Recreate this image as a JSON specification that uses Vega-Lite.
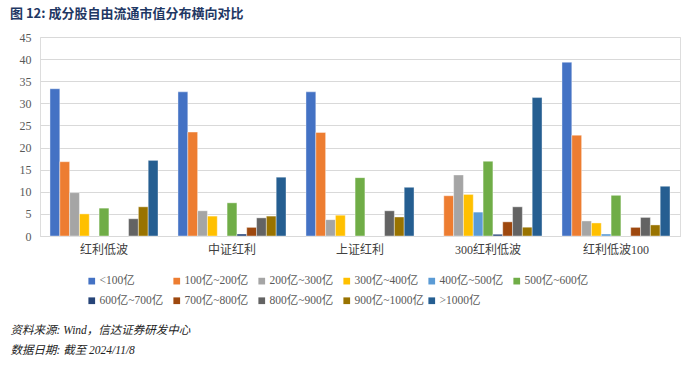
{
  "$schema": "https://vega.github.io/schema/vega-lite/v6.json",
  "width": 640,
  "height": 199,
  "autosize": {"type": "none"},
  "padding": {"left": 40, "top": 37, "right": 20, "bottom": 130},
  "background": "white",
  "title": {
    "text": "图 12:  成分股自由流通市值分布横向对比",
    "anchor": "start",
    "frame": "group",
    "dx": -30,
    "offset": 10,
    "fontSize": 13,
    "font": "Noto Sans CJK SC",
    "fontWeight": "bold",
    "color": "#1F3864"
  },
  "data": {
    "values": [
      {"index": "红利低波", "range": "<100亿", "value": 33.3},
      {"index": "红利低波", "range": "100亿~200亿", "value": 16.8},
      {"index": "红利低波", "range": "200亿~300亿", "value": 9.8},
      {"index": "红利低波", "range": "300亿~400亿", "value": 5.0},
      {"index": "红利低波", "range": "500亿~600亿", "value": 6.3},
      {"index": "红利低波", "range": "800亿~900亿", "value": 3.9},
      {"index": "红利低波", "range": "900亿~1000亿", "value": 6.6},
      {"index": "红利低波", "range": ">1000亿", "value": 17.1},
      {"index": "中证红利", "range": "<100亿", "value": 32.6},
      {"index": "中证红利", "range": "100亿~200亿", "value": 23.5},
      {"index": "中证红利", "range": "200亿~300亿", "value": 5.7},
      {"index": "中证红利", "range": "300亿~400亿", "value": 4.5},
      {"index": "中证红利", "range": "500亿~600亿", "value": 7.5},
      {"index": "中证红利", "range": "600亿~700亿", "value": 0.45},
      {"index": "中证红利", "range": "700亿~800亿", "value": 1.95},
      {"index": "中证红利", "range": "800亿~900亿", "value": 4.1},
      {"index": "中证红利", "range": "900亿~1000亿", "value": 4.5},
      {"index": "中证红利", "range": ">1000亿", "value": 13.3},
      {"index": "上证红利", "range": "<100亿", "value": 32.6},
      {"index": "上证红利", "range": "100亿~200亿", "value": 23.4},
      {"index": "上证红利", "range": "200亿~300亿", "value": 3.7},
      {"index": "上证红利", "range": "300亿~400亿", "value": 4.7},
      {"index": "上证红利", "range": "500亿~600亿", "value": 13.2},
      {"index": "上证红利", "range": "800亿~900亿", "value": 5.7},
      {"index": "上证红利", "range": "900亿~1000亿", "value": 4.3},
      {"index": "上证红利", "range": ">1000亿", "value": 11.0},
      {"index": "300红利低波", "range": "100亿~200亿", "value": 9.1},
      {"index": "300红利低波", "range": "200亿~300亿", "value": 13.8},
      {"index": "300红利低波", "range": "300亿~400亿", "value": 9.4},
      {"index": "300红利低波", "range": "400亿~500亿", "value": 5.4},
      {"index": "300红利低波", "range": "500亿~600亿", "value": 16.9},
      {"index": "300红利低波", "range": "600亿~700亿", "value": 0.4},
      {"index": "300红利低波", "range": "700亿~800亿", "value": 3.2},
      {"index": "300红利低波", "range": "800亿~900亿", "value": 6.6},
      {"index": "300红利低波", "range": "900亿~1000亿", "value": 2.0},
      {"index": "300红利低波", "range": ">1000亿", "value": 31.3},
      {"index": "红利低波100", "range": "<100亿", "value": 39.3},
      {"index": "红利低波100", "range": "100亿~200亿", "value": 22.8},
      {"index": "红利低波100", "range": "200亿~300亿", "value": 3.4},
      {"index": "红利低波100", "range": "300亿~400亿", "value": 2.95},
      {"index": "红利低波100", "range": "400亿~500亿", "value": 0.45},
      {"index": "红利低波100", "range": "500亿~600亿", "value": 9.2},
      {"index": "红利低波100", "range": "700亿~800亿", "value": 1.95},
      {"index": "红利低波100", "range": "800亿~900亿", "value": 4.2},
      {"index": "红利低波100", "range": "900亿~1000亿", "value": 2.5},
      {"index": "红利低波100", "range": ">1000亿", "value": 11.25}
    ]
  },
  "mark": {"type": "bar", "stroke": "white", "strokeWidth": 0.4},
  "encoding": {
    "x": {
      "field": "index",
      "type": "nominal",
      "sort": ["红利低波", "中证红利", "上证红利", "300红利低波", "红利低波100"],
      "scale": {"paddingInner": 0.156, "paddingOuter": 0.078},
      "axis": {
        "labelAngle": 0,
        "labelPadding": 8,
        "labelFont": "'Liberation Serif', 'Noto Sans CJK SC'",
        "labelFontSize": 12,
        "labelColor": "#404040",
        "ticks": false,
        "domain": true,
        "domainColor": "#D9D9D9",
        "title": ["资料来源: Wind，信达证券研发中心", "数据日期: 截至 2024/11/8"],
        "titleX": -30,
        "titleY": 88,
        "titleAlign": "left",
        "titleBaseline": "top",
        "titleFont": "'Liberation Serif', 'Noto Sans CJK SC'",
        "titleFontSize": 11.5,
        "titleFontStyle": "italic",
        "titleFontWeight": "normal",
        "titleLineHeight": 20,
        "titleColor": "#222222"
      }
    },
    "xOffset": {
      "field": "range",
      "type": "nominal",
      "scale": {
        "domain": ["<100亿", "100亿~200亿", "200亿~300亿", "300亿~400亿", "400亿~500亿", "500亿~600亿", "600亿~700亿", "700亿~800亿", "800亿~900亿", "900亿~1000亿", ">1000亿"],
        "paddingInner": 0,
        "paddingOuter": 0
      }
    },
    "y": {
      "field": "value",
      "type": "quantitative",
      "scale": {"domain": [0, 45], "nice": false},
      "axis": {
        "values": [0, 5, 10, 15, 20, 25, 30, 35, 40, 45],
        "title": null,
        "ticks": false,
        "domain": false,
        "gridColor": "#D9D9D9",
        "labelPadding": 9,
        "labelFont": "Liberation Serif",
        "labelFontSize": 12,
        "labelColor": "#595959"
      }
    },
    "color": {
      "field": "range",
      "type": "nominal",
      "scale": {
        "domain": ["<100亿", "100亿~200亿", "200亿~300亿", "300亿~400亿", "400亿~500亿", "500亿~600亿", "600亿~700亿", "700亿~800亿", "800亿~900亿", "900亿~1000亿", ">1000亿"],
        "range": ["#4472C4", "#ED7D31", "#A5A5A5", "#FFC000", "#5B9BD5", "#70AD47", "#264478", "#9E480E", "#636363", "#997300", "#255E91"]
      },
      "legend": {
        "orient": "none",
        "legendX": 46,
        "legendY": 238,
        "direction": "horizontal",
        "columns": 6,
        "gridAlign": "all",
        "title": null,
        "symbolType": "square",
        "symbolSize": 45,
        "symbolStrokeWidth": 0,
        "labelFont": "'Liberation Serif', 'Noto Sans CJK SC'",
        "labelFontSize": 11.5,
        "labelColor": "#595959",
        "labelOffset": 2,
        "rowPadding": 7,
        "columnPadding": 2,
        "labelLimit": 0
      }
    }
  }
}
